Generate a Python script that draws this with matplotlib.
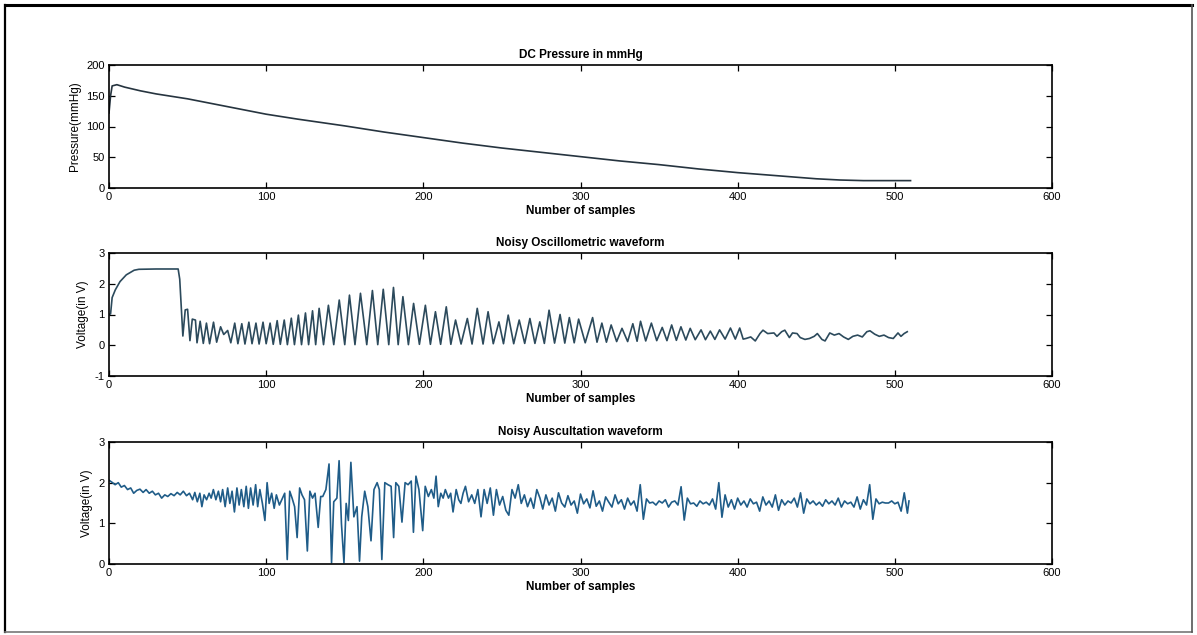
import matplotlib
matplotlib.use("Agg")
import matplotlib.pyplot as plt
from matplotlib.lines import Line2D

plt.rcParams['font.family'] = ['Liberation Sans', 'DejaVu Sans']
plt.rcParams['axes.unicode_minus'] = False

# ---- data (sample index, value) ----
pressure_x = [0, 1, 2, 5, 10, 20, 30, 40, 50, 60, 70, 80, 90, 100, 120, 150, 175, 200,
              225, 250, 275, 300, 325, 350, 375, 400, 425, 450, 465, 480, 495, 510]
pressure_y = [122, 150, 166, 168, 164, 158, 153, 149, 145, 140, 135, 130, 125, 120, 112, 101,
              91, 82, 73, 65, 58, 51, 44, 38, 31, 25, 20, 15, 13, 12, 12, 12]

osc_x = [0, 1, 2, 4, 7, 11, 16, 19, 30, 44, 45, 46, 47, 48.5, 50, 51.5, 53, 55, 56,
         58, 60, 62, 64, 66.5, 68.5, 71, 73, 75.5, 77.5, 80, 82, 84.5, 86.5, 89, 91,
         93.5, 95.5, 98, 100, 102.5, 104.5, 107, 109, 111.5, 113.5, 116, 118, 120.5,
         122.5, 125, 127, 129.5, 131.5,
         133.7, 136.5, 139.6, 143, 146.5, 150, 153, 156.5, 160, 164, 167.6, 171, 174.5,
         178, 181, 184, 187, 190.5, 193.8, 197.5, 201.3, 204.5, 207.7, 211, 214.6, 217.5,
         220.5, 224, 228, 231, 234.3, 238, 241.2, 244.5, 248.1, 251, 254, 257.5, 261,
         264.5, 267.8, 271, 274.1, 277, 280, 283.5, 287, 290, 292.9, 296, 298.8, 303,
         307.7, 310.5, 313.6, 316.5, 319.5, 323, 326.4, 330, 333.3, 336, 338.2, 341.5,
         345.1, 348.5, 352, 355, 358, 361, 363.9, 367, 369.8, 373, 376.7, 379.5, 382.6,
         385.5, 388.5, 392, 395.4, 398.5, 401.3, 403.5,
         405.3, 408.3, 411.2, 414.2, 416.1, 419.1, 423.1, 425, 428, 430, 432.9, 434.9,
         437.8, 439.8, 442.8, 445.7, 448.7, 450.7, 453.6, 455.6, 458.6, 461.5, 464.5,
         467.4, 470.4, 473.3, 476.3, 479.3, 482.2, 484.2, 487.2, 490.1, 493.1, 496, 499,
         502, 503.9, 505.9, 507.9]
osc_y = [1.0, 1.02, 1.55, 1.8, 2.07, 2.29, 2.44, 2.47, 2.48, 2.48, 2.15, 1.2, 0.3, 1.15,
         1.17, 0.15, 0.85, 0.82, 0.08,
         0.78, 0.06, 0.72, 0.05, 0.75, 0.1, 0.6, 0.35, 0.48, 0.08, 0.72, 0.05, 0.7, 0.04,
         0.75, 0.05, 0.72, 0.04, 0.75, 0.05, 0.72, 0.03, 0.8, 0.03, 0.82, 0.02, 0.88,
         0.02, 0.98, 0.02, 1.05, 0.02, 1.12, 0.02,
         1.2, 0.02, 1.3, 0.02, 1.47, 0.02, 1.63, 0.02, 1.69, 0.02, 1.78, 0.02, 1.82,
         0.02, 1.88, 0.02, 1.58, 0.02, 1.36, 0.03, 1.3, 0.03, 1.09, 0.03, 1.25, 0.03,
         0.82, 0.04, 0.87, 0.04, 1.2, 0.04, 1.09, 0.05, 0.76, 0.05, 0.98, 0.05, 0.82,
         0.06, 0.87, 0.06, 0.76, 0.06, 1.14, 0.07, 1.0, 0.07, 0.9, 0.08, 0.85, 0.08,
         0.9, 0.1, 0.72, 0.1, 0.66, 0.12, 0.55, 0.12, 0.7, 0.13, 0.78, 0.14, 0.72, 0.15,
         0.58, 0.15, 0.66, 0.16, 0.6, 0.17, 0.55, 0.18, 0.5, 0.18, 0.46, 0.19, 0.5, 0.2,
         0.56, 0.2, 0.56, 0.2,
         0.22, 0.27, 0.14, 0.38, 0.49, 0.38, 0.4, 0.29, 0.44, 0.49, 0.25, 0.4, 0.38,
         0.25, 0.19, 0.22, 0.29, 0.38, 0.19, 0.14, 0.4, 0.33, 0.38, 0.27, 0.19, 0.29,
         0.33, 0.27, 0.44, 0.47, 0.36, 0.29, 0.33, 0.25, 0.22, 0.4, 0.29, 0.38, 0.44]

aus_x = [0, 1.9, 3.9, 5.9, 7.8, 9.8, 11.8, 13.8, 15.7, 17.7, 19.7, 21.7, 23.6, 25.6, 27.6,
         29.5, 31.5, 33.5, 35.5, 37.4, 39.4, 41.4, 43.4, 45.3, 47.3, 49.3, 51.2, 53.2,
         54.6, 56.2, 57.8, 59.1, 60.5, 62.1, 63.7, 65, 66.4, 68, 69.6, 71, 72.3, 73.9,
         75.5, 76.9, 78.3, 79.8, 81.4, 82.8, 84.2, 85.8, 87.3, 88.7, 90.1, 91.7, 93.3,
         94.6, 96, 97.6, 99.2, 100.6, 101.9, 103.5, 105.1, 106.5, 108.4, 110.4, 111.8,
         113.4, 115, 116.5, 118.1, 119.7, 121.3, 122.8, 124.4, 126.2, 127.8, 129.5,
         131.1, 133.1, 134.7, 136, 138, 140, 141.6, 143, 145, 146.4, 147.9, 149.5, 150.9,
         152.3, 153.9, 155.8, 157.8, 159.4, 160.8, 162.7, 164.7, 166.7, 168.6, 170.6,
         172, 173.6, 175.5, 177.5, 179.5, 181.1, 182.5, 184.4, 186.4, 188.4, 190.3,
         192.3, 193.7, 195.3, 197.2, 199.6, 201.2, 203.2, 205.1, 206.7, 208.1, 209.5,
         211.1, 212.6, 214, 216, 217.4, 218.9, 220.9, 222.5, 223.9, 225.3, 226.8, 228.8,
         230.8, 232.7, 234.7, 236.7, 238.7, 240.6, 242.6, 244.6, 246.5, 248.5, 250.5,
         252.5, 254.4, 256.4, 258.4, 260.4, 262.3, 264.3, 266.3, 268.3, 270.2, 272.2,
         274.2, 276, 278, 280, 282, 284, 286, 288, 290, 292, 294, 296, 298, 300, 302,
         304, 306, 308, 310, 312, 314, 316, 318, 320, 322, 324, 326, 328, 330, 332, 334,
         336, 338, 340, 342, 344, 346, 348, 350, 352, 354, 356, 358, 360, 362, 364, 366,
         368, 370, 372, 374, 376, 378, 380, 382, 384, 386, 388, 390, 392, 394, 396, 398,
         400, 402, 404, 406, 408, 410, 412, 414, 416, 418, 420, 422, 424, 426, 428, 430,
         432, 434, 436, 438, 440, 442, 444, 446, 448, 450, 452, 454, 456, 458, 460, 462,
         464, 466, 468, 470, 472, 474, 476, 478, 480, 482, 484, 486, 488, 490, 492, 494,
         496, 498, 500, 502, 504, 506, 508, 509]
aus_y = [2.06, 2.01, 1.95, 2.0, 1.89, 1.93, 1.83, 1.87, 1.74, 1.81, 1.84, 1.76, 1.83, 1.74,
         1.79, 1.70, 1.74, 1.62, 1.70, 1.66, 1.73, 1.68, 1.76, 1.70, 1.79, 1.68, 1.74,
         1.58, 1.76, 1.53, 1.74, 1.41, 1.70, 1.58, 1.74, 1.62, 1.83, 1.58, 1.79, 1.53,
         1.83, 1.41, 1.87, 1.49, 1.79, 1.28, 1.87, 1.45, 1.83, 1.41, 1.91, 1.37, 1.87,
         1.45, 1.95, 1.41, 1.83, 1.49, 1.07, 2.0, 1.49, 1.74, 1.37, 1.70, 1.45, 1.62,
         1.74, 0.11, 1.79, 1.62, 1.41, 0.65, 1.87, 1.70, 1.58, 0.32, 1.79, 1.62, 1.74,
         0.9, 1.66, 1.66, 1.83, 2.46, 0.03, 1.53, 1.62, 2.54, 0.99, 0.03, 1.49, 1.07,
         2.50, 1.16, 1.41, 0.07, 1.16, 1.79, 1.41, 0.57, 1.83, 2.0, 1.83, 0.11, 2.0,
         1.95, 1.91, 0.65, 2.0, 1.91, 1.03, 2.0, 1.95, 2.04, 0.78, 2.16, 1.83, 0.82,
         1.91, 1.66, 1.83, 1.62, 2.16, 1.41, 1.74, 1.62, 1.83, 1.62, 1.74, 1.28, 1.83,
         1.58, 1.49, 1.74, 1.91, 1.53, 1.70, 1.49, 1.83, 1.16, 1.83, 1.49, 1.87, 1.20,
         1.83, 1.45, 1.66, 1.32, 1.20, 1.83, 1.62, 1.95, 1.49, 1.70, 1.41, 1.62, 1.37,
         1.83, 1.62, 1.35, 1.70, 1.45, 1.62, 1.30, 1.75, 1.50, 1.40, 1.68, 1.45, 1.55,
         1.25, 1.72, 1.48, 1.60, 1.38, 1.80, 1.42, 1.55, 1.30, 1.65, 1.52, 1.40, 1.70,
         1.48, 1.58, 1.35, 1.62, 1.45, 1.55, 1.30, 1.95, 1.10, 1.60, 1.50, 1.52, 1.45,
         1.55, 1.50, 1.58, 1.40, 1.52, 1.55, 1.45, 1.90, 1.08, 1.62, 1.48, 1.50, 1.42,
         1.55, 1.48, 1.52, 1.45, 1.60, 1.35, 2.0, 1.15, 1.70, 1.40, 1.58, 1.35, 1.62,
         1.45, 1.55, 1.40, 1.60, 1.48, 1.52, 1.30, 1.65, 1.45, 1.55, 1.40, 1.70, 1.32,
         1.58, 1.45, 1.55, 1.50, 1.62, 1.40, 1.75, 1.25, 1.60, 1.48, 1.55, 1.45, 1.52,
         1.42, 1.58, 1.48, 1.55, 1.45, 1.62, 1.40, 1.55, 1.48, 1.52, 1.40, 1.65, 1.35,
         1.58, 1.45, 1.95, 1.10, 1.60, 1.48, 1.52, 1.50, 1.50, 1.55, 1.48, 1.52, 1.30,
         1.75, 1.25, 1.55]

x_ticks = [0, 100, 200, 300, 400, 500, 600]

panels = [
    dict(x=pressure_x, y=pressure_y, title="DC Pressure in mmHg", ylabel="Pressure(mmHg)",
         ylim=(0, 200), yticks=[0, 50, 100, 150, 200], color="#26343f"),
    dict(x=osc_x, y=osc_y, title="Noisy Oscillometric waveform", ylabel="Voltage(in V)",
         ylim=(-1, 3), yticks=[-1, 0, 1, 2, 3], color="#2c4a5c"),
    dict(x=aus_x, y=aus_y, title="Noisy Auscultation waveform", ylabel="Voltage(in V)",
         ylim=(0, 3), yticks=[0, 1, 2, 3], color="#1f5c88"),
]

W, H = 1197, 635
fig = plt.figure(figsize=(W / 100, H / 100), dpi=100)

# axes boxes in pixels (left, top, right, bottom)
boxes = [(109, 65, 1052, 188), (109, 253, 1052, 376), (109, 442, 1052, 564)]

for p, (l, t, r, b) in zip(panels, boxes):
    ax = fig.add_axes([l / W, 1 - b / H, (r - l) / W, (b - t) / H])
    ax.plot(p["x"], p["y"], color=p["color"], lw=1.2)
    ax.set_xlim(0, 600)
    ax.set_ylim(*p["ylim"])
    ax.set_xticks(x_ticks)
    ax.set_yticks(p["yticks"])
    ax.tick_params(direction="in", top=True, right=True, length=4, width=0.9,
                   labelsize=8, pad=3)
    for s in ax.spines.values():
        s.set_linewidth(1.2)
    ax.set_title(p["title"], fontsize=8.5, fontweight="bold", pad=5)
    ax.set_xlabel("Number of samples", fontsize=8.5, fontweight="bold", labelpad=2)
    ax.set_ylabel(p["ylabel"], fontsize=8.5, labelpad=4)

# frame around the whole picture: heavy black top/left, lighter grey bottom/right
x0, x1 = 5 / W, 1192 / W
y0, y1 = 1 - 632 / H, 1 - 5 / H
fig.add_artist(Line2D([x0, x1], [y1, y1], color="black", lw=2.2, transform=fig.transFigure))
fig.add_artist(Line2D([x0, x0], [y0, y1], color="black", lw=1.6, transform=fig.transFigure))
fig.add_artist(Line2D([x0, x1], [y0, y0], color="#777777", lw=1.2, transform=fig.transFigure))
fig.add_artist(Line2D([x1, x1], [y0, y1], color="#555555", lw=1.2, transform=fig.transFigure))

fig.savefig("out.png", dpi=100)
